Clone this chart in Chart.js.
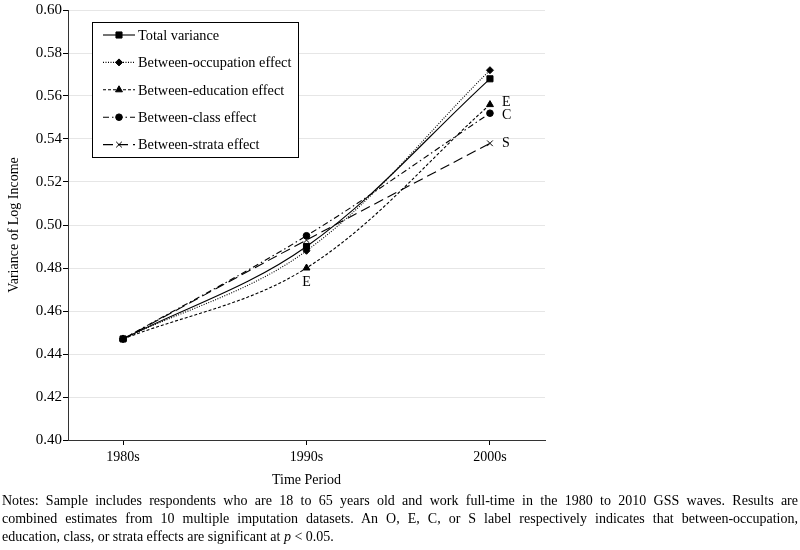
<!DOCTYPE html>
<html>
<head>
<meta charset="utf-8">
<script src="https://cdn.jsdelivr.net/npm/chart.js@4.4.1/dist/chart.umd.min.js"></script>
<style>
  body { margin: 0; background: #fff; }
  #wrap { position: relative; width: 800px; height: 550px; }
  #notes {
    position: absolute; left: 2px; top: 492px; width: 796px;
    font-family: "Liberation Serif", "DejaVu Serif", serif; font-size: 14px;
    line-height: 18px; color: #000;
  }
  #notes div { text-align: justify; text-align-last: justify; white-space: nowrap; }
  #notes div.last { text-align-last: left; }
</style>
</head>
<body>
<div id="wrap">
  <canvas id="chart" width="800" height="550"></canvas>
  <div id="notes">
    <div>Notes: Sample includes respondents who are 18 to 65 years old and work full-time in the 1980 to 2010 GSS waves. Results are</div>
    <div>combined estimates from 10 multiple imputation datasets. An O, E, C, or S label respectively indicates that between-occupation,</div>
    <div class="last">education, class, or strata effects are significant at <i>p</i> &lt; 0.05.</div>
  </div>
</div>
<script>
// --- data ---
const periods = ["1980s", "1990s", "2000s"];
const totalVariance = [0.447, 0.490, 0.568];
const occupationEffect = [0.447, 0.488, 0.572];
const educationEffect = [0.447, 0.480, 0.556];
const classEffect = [0.447, 0.495, 0.552];
const strataEffect = [0.447, 0.493, 0.538];
const yTicks = [0.40, 0.42, 0.44, 0.46, 0.48, 0.50, 0.52, 0.54, 0.56, 0.58, 0.60];

// significance labels: dataset index, period index, letter
const sigLabels = [
  { ds: 2, idx: 1, text: "E" },
  { ds: 2, idx: 2, text: "E" },
  { ds: 3, idx: 2, text: "C" },
  { ds: 4, idx: 2, text: "S" }
];

const serif = '"Liberation Serif", "DejaVu Serif", serif';
const toPoints = arr => arr.map((v, i) => ({ x: i, y: v }));

function series(label, values, dash, style, radius) {
  return {
    label: label,
    data: toPoints(values),
    borderColor: "#000",
    backgroundColor: "#000",
    borderWidth: 1.1,
    borderDash: dash,
    pointStyle: style,
    pointRadius: radius,
    pointBorderWidth: 1,
    tension: 0.35
  };
}

const datasets = [
  series("Total variance", totalVariance, [], "rect", 4.3),
  series("Between-occupation effect", occupationEffect, [1, 1.5], "rectRot", 3.5),
  series("Between-education effect", educationEffect, [3, 2], "triangle", 4),
  series("Between-class effect", classEffect, [6, 3, 1.5, 3], "circle", 3.3),
  series("Between-strata effect", strataEffect, [10, 5], "crossRot", 4)
];

// legend box inside the plot + significance letters
const extras = {
  id: "extras",
  afterDatasetsDraw(chart) {
    const ctx = chart.ctx;
    const xs = chart.scales.x, ys = chart.scales.y;
    ctx.save();
    // significance letters
    ctx.font = "14px " + serif;
    ctx.fillStyle = "#000";
    ctx.textBaseline = "middle";
    sigLabels.forEach(s => {
      const v = chart.data.datasets[s.ds].data[s.idx];
      const px = xs.getPixelForValue(v.x), py = ys.getPixelForValue(v.y);
      if (s.idx === 1) {
        ctx.textAlign = "center";
        ctx.fillText(s.text, px, py + 14);
      } else {
        ctx.textAlign = "left";
        const dy = s.text === "E" ? -2 : (s.text === "C" ? 2 : 0);
        ctx.fillText(s.text, px + 12, py + dy);
      }
    });

    // legend
    const bx = 92, by = 22, bw = 206, bh = 135;
    ctx.fillStyle = "#fff";
    ctx.fillRect(bx, by, bw, bh);
    ctx.strokeStyle = "#000";
    ctx.lineWidth = 1;
    ctx.setLineDash([]);
    ctx.strokeRect(bx + 0.5, by + 0.5, bw, bh);
    chart.data.datasets.forEach((ds, i) => {
      const y = 35 + i * 27.4;
      ctx.strokeStyle = "#000";
      ctx.lineWidth = 1.1;
      ctx.setLineDash(ds.borderDash);
      ctx.beginPath();
      ctx.moveTo(103, y);
      ctx.lineTo(135, y);
      ctx.stroke();
      ctx.setLineDash([]);
      ctx.lineWidth = 1;
      ctx.fillStyle = "#000";
      Chart.helpers.drawPoint(ctx, { pointStyle: ds.pointStyle, radius: ds.pointRadius, borderWidth: 1, rotation: 0 }, 119, y);
      ctx.font = "14.3px " + serif;
      ctx.textAlign = "left";
      ctx.textBaseline = "middle";
      ctx.fillText(ds.label, 138, y + 1);
    });
    ctx.restore();
  }
};

new Chart(document.getElementById("chart"), {
  type: "line",
  data: { datasets: datasets },
  plugins: [extras],
  options: {
    responsive: false,
    animation: false,
    layout: { padding: { top: 6, right: 255, bottom: 58, left: 0 } },
    plugins: { legend: { display: false }, tooltip: { enabled: false } },
    scales: {
      x: {
        type: "linear",
        min: -0.3,
        max: 2.3,
        afterFit: s => { s.height = 52; },
        afterBuildTicks: s => { s.ticks = periods.map((p, i) => ({ value: i })); },
        ticks: {
          callback: v => periods[v],
          color: "#000",
          padding: 4,
          font: { family: serif, size: 14 }
        },
        grid: { drawOnChartArea: false, drawTicks: true, tickLength: 5, color: "#000" },
        border: { color: "#333", width: 1 },
        title: {
          display: true, text: "Time Period", color: "#000",
          font: { family: serif, size: 14 }, padding: { top: 2, bottom: 3 }
        }
      },
      y: {
        min: 0.40,
        max: 0.60,
        afterFit: s => { s.width = 68; },
        afterBuildTicks: s => { s.ticks = yTicks.map(v => ({ value: v })); },
        ticks: {
          callback: v => v.toFixed(2),
          color: "#000",
          padding: 1,
          font: { family: serif, size: 15 }
        },
        grid: { color: "#e6e6e6", tickColor: "#000", tickLength: 5, lineWidth: 1 },
        border: { color: "#333", width: 1 },
        title: {
          display: true, text: "Variance of Log Income", color: "#000",
          font: { family: serif, size: 14 }, padding: { top: 6, bottom: 2 }
        }
      }
    }
  }
});
</script>
</body>
</html>
